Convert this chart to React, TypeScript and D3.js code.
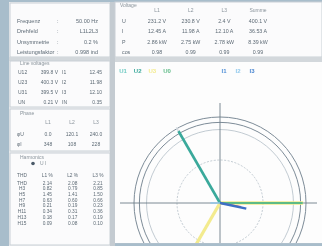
import React from "react";
import * as d3 from "d3";

// left panel: general info
const infoLabels = ["Frequenz", "Drehfeld", "Unsymmetrie", "Leistungsfaktor"];
const infoValues = ["50.00 Hz", "L1L2L3", "0.2 %", "0.998 ind"];

// top right table
const tableTitle = "Voltage";
const tableCols = ["L1", "L2", "L3", "Summe"];
const tableRows = ["U", "I", "P", "cos"];
const tableValues = [
  ["231.2 V", "230.8 V", "2.4 V", "400.1 V"],
  ["12.45 A", "11.98 A", "12.10 A", "36.53 A"],
  ["2.86 kW", "2.75 kW", "2.78 kW", "8.39 kW"],
  ["0.98", "0.99", "0.99", "0.99"],
];

// left panel: line voltages
const lineTitle = "Line voltages";
const lineRows = [
  ["U12", "399.8 V", "I1", "12.45"],
  ["U23", "400.3 V", "I2", "11.98"],
  ["U31", "399.5 V", "I3", "12.10"],
  ["UN", "0.21 V", "IN", "0.35"],
];

// left panel: phase angles
const phaseTitle = "Phase";
const phaseCols = ["L1", "L2", "L3"];
const phaseRows = [
  ["φU", "0.0", "120.1", "240.0"],
  ["φI", "348", "108", "228"],
];

// left panel: harmonics
const harmTitle = "Harmonics";
const harmOption = "U  I";
const harmCols = ["THD", "L1 %", "L2 %", "L3 %"];
const harmRows = [
  ["THD", "2.14", "2.08", "2.21"],
  ["H3", "0.82", "0.79", "0.85"],
  ["H5", "1.45", "1.41", "1.50"],
  ["H7", "0.63", "0.60", "0.66"],
  ["H9", "0.21", "0.19", "0.23"],
  ["H11", "0.34", "0.31", "0.36"],
  ["H13", "0.18", "0.17", "0.19"],
  ["H15", "0.09", "0.08", "0.10"],
];

// phasor diagram
const legendNames = ["U1", "U2", "U3", "U0", "I1", "I2", "I3"];
const legendColors = ["#6fcac3", "#3aa99b", "#f3eb8e", "#5dbb86", "#4f8fd6", "#8fc8ec", "#4a86d1"];
const ringValues = [240, 225, 205, 120];
const voltNames = ["U3", "U1", "U0", "U2"];
const voltMags = [232, 232, 231, 232];
const voltAngles = [240, 0, 0, 120];
const voltColors = ["#f3eb8e", "#f3eb8e", "#5dbb86", "#3aa99b"];
const voltWidths = [3.2, 3.6, 2.2, 2.6];
const currNames = ["I3", "I2", "I1"];
const currMags = [4.5, 10, 12.5];
const currAngles = [180, 350, 348];
const currColors = ["#8fc8ec", "#d96a6a", "#3d6fc4"];

const W = 322;
const H = 246;
const textColor = "#5d6a75";
const fnt = "Liberation Sans, Arial, sans-serif";

function Box({ x, y, w, h }: { x: number; y: number; w: number; h: number }) {
  return <rect x={x} y={y} width={w} height={h} fill="#fbfbfc" stroke="#c9d0d6" strokeWidth={1} />;
}

export default function App() {
  const cx = 220;
  const cy = 203;
  const r = d3.scaleLinear().domain([0, 240]).range([0, 86]);
  const ri = d3.scaleLinear().domain([0, 40]).range([0, 86]);
  const tip = (mag: number, deg: number, s: d3.ScaleLinear<number, number>) => {
    const a = (deg * Math.PI) / 180;
    return [cx + s(mag) * Math.cos(a), cy - s(mag) * Math.sin(a)];
  };

  // column positions
  const tx = d3.scalePoint<string>().domain(tableCols).range([157, 258]);
  const ty = d3.scalePoint<string>().domain(tableRows).range([21, 52]);
  const lx = d3.scaleBand<number>().domain([0, 1, 2, 3]).range([16, 104]);
  const ly = d3.scalePoint<number>().domain(d3.range(lineRows.length)).range([72, 102]);
  const px = d3.scalePoint<string>().domain(phaseCols).range([48, 96]);
  const py = d3.scalePoint<number>().domain(d3.range(phaseRows.length)).range([134, 144]);
  const hx = d3.scalePoint<string>().domain(harmCols).range([22, 98]);
  const hy = d3.scalePoint<number>().domain(d3.range(harmRows.length)).range([183, 223]);
  const legX = d3.scalePoint<string>().domain(legendNames.slice(0, 4)).range([123, 167]);
  const legX2 = d3.scalePoint<string>().domain(legendNames.slice(4)).range([224, 252]);
  const iy = d3.scalePoint<number>().domain(d3.range(infoLabels.length)).range([21, 52]);

  return (
    <svg
      width={W}
      height={H}
      style={{ position: "fixed", left: 0, top: 0, filter: "blur(0.5px)" }}
      fontFamily={fnt}
    >
      <rect width={W} height={H} fill="#a8bdcb" />

      {/* left panel */}
      <rect x={9} y={2} width={103} height={244} fill="#eef0f2" />
      <Box x={10} y={3} w={100} h={54} />
      {infoLabels.map((l, i) => (
        <g key={l} fontSize={5.5} fill={textColor}>
          <text x={17} y={iy(i)! + 2}>{l}</text>
          <text x={57} y={iy(i)! + 2}>:</text>
          <text x={98} y={iy(i)! + 2} textAnchor="end">{infoValues[i]}</text>
        </g>
      ))}
      <rect x={9} y={57} width={103} height={4} fill="#d3d8dc" />

      <Box x={10} y={61} w={100} h={46} />
      <text x={20} y={65} fontSize={5} fill="#8a949c">{lineTitle}</text>
      {lineRows.map((row, i) =>
        row.map((c, j) => (
          <text key={i + "-" + j} x={lx(j)! + (j % 2 ? 20 : 2)} y={ly(i)! + 2} fontSize={5} fill={textColor}
            textAnchor={j % 2 ? "end" : "start"}>{c}</text>
        ))
      )}

      <Box x={10} y={109} w={100} h={42} />
      <text x={20} y={115} fontSize={5} fill="#8a949c">{phaseTitle}</text>
      {phaseCols.map((c) => (
        <text key={c} x={px(c)} y={124} fontSize={5} fill="#8a949c" textAnchor="middle">{c}</text>
      ))}
      {phaseRows.map((row, i) =>
        row.map((c, j) => (
          <text key={i + "-" + j} x={j === 0 ? 17 : px(phaseCols[j - 1])} y={py(i)! + 2} fontSize={5}
            fill={textColor} textAnchor={j === 0 ? "start" : "middle"}>{c}</text>
        ))
      )}

      <Box x={10} y={153} w={100} h={92} />
      <text x={20} y={159} fontSize={5} fill="#8a949c">{harmTitle}</text>
      <circle cx={33} cy={163.5} r={1.8} fill="#4a5a68" />
      <text x={40} y={165} fontSize={5} fill="#8a949c">{harmOption}</text>
      {harmCols.map((c) => (
        <text key={c} x={hx(c)} y={177} fontSize={4.8} fill={textColor} textAnchor="middle">{c}</text>
      ))}
      {harmRows.map((row, i) =>
        row.map((c, j) => (
          <text key={i + "-" + j} x={hx(harmCols[j])} y={hy(i)! + 1.5} fontSize={4.8} fill={textColor}
            textAnchor="middle">{c}</text>
        ))
      )}

      {/* splitter */}
      <rect x={110} y={2} width={5} height={244} fill="#c4cbd1" />

      {/* top right table */}
      <rect x={115} y={2} width={207} height={55} fill="#fbfbfc" stroke="#c9d0d6" />
      <text x={120} y={7} fontSize={5} fill="#8a949c">{tableTitle}</text>
      {tableCols.map((c) => (
        <text key={c} x={tx(c)} y={12} fontSize={5} fill="#8a949c" textAnchor="middle">{c}</text>
      ))}
      {tableRows.map((rw, i) => (
        <g key={rw} fontSize={5.3} fill={textColor}>
          <text x={122} y={ty(rw)! + 2}>{rw}</text>
          {tableValues[i].map((v, j) => (
            <text key={j} x={tx(tableCols[j])} y={ty(rw)! + 2} textAnchor="middle">{v}</text>
          ))}
        </g>
      ))}
      <rect x={115} y={57} width={207} height={5} fill="#d3d8dc" />

      {/* phasor panel */}
      <rect x={115} y={62} width={207} height={181} fill="#fdfdfd" />
      <line x1={115} y1={243.5} x2={322} y2={243.5} stroke="#b7c3cc" />
      <rect x={115} y={243.5} width={207} height={3} fill="#a8bdcb" />
      {legendNames.slice(0, 4).map((n, i) => (
        <text key={n} x={legX(n)} y={73} fontSize={6} fontWeight="bold" fill={legendColors[i]} textAnchor="middle">{n}</text>
      ))}
      {legendNames.slice(4).map((n, i) => (
        <text key={n} x={legX2(n)} y={73} fontSize={6} fontWeight="bold" fill={legendColors[i + 4]} textAnchor="middle">{n}</text>
      ))}

      <g clipPath="url(#plotclip)">
        <defs>
          <clipPath id="plotclip">
            <rect x={115} y={62} width={207} height={181} />
          </clipPath>
        </defs>
        {ringValues.map((v, i) => (
          <circle key={v} cx={cx} cy={cy} r={r(v)} fill="none"
            stroke={i < 2 ? "#7d8c98" : "#b3bec7"} strokeWidth={i < 2 ? 1 : 0.8}
            strokeDasharray={i === 3 ? "2,1.5" : undefined} />
        ))}
        <line x1={120} y1={cy} x2={317} y2={cy} stroke="#6e7d89" strokeWidth={0.9} />
        <line x1={cx} y1={103} x2={cx} y2={246} stroke="#6e7d89" strokeWidth={0.9} />
        {voltMags.map((m, i) => {
          const [x2, y2] = tip(m, voltAngles[i], r);
          return <line key={voltNames[i] + i} x1={cx} y1={cy} x2={x2} y2={y2} stroke={voltColors[i]}
            strokeWidth={voltWidths[i]} />;
        })}
        {(() => {
          const [x2, y2] = tip(voltMags[3] + 12, voltAngles[3], r);
          const [x1, y1] = tip(voltMags[3], voltAngles[3], r);
          return <line x1={x1} y1={y1} x2={x2} y2={y2} stroke="#d5dce2" strokeWidth={1.5} />;
        })()}
        {currMags.map((m, i) => {
          const [x2, y2] = tip(m, currAngles[i], ri);
          return <line key={currNames[i]} x1={cx} y1={cy} x2={x2} y2={y2} stroke={currColors[i]}
            strokeWidth={i === 2 ? 2.4 : 1.4} />;
        })}
      </g>
    </svg>
  );
}
